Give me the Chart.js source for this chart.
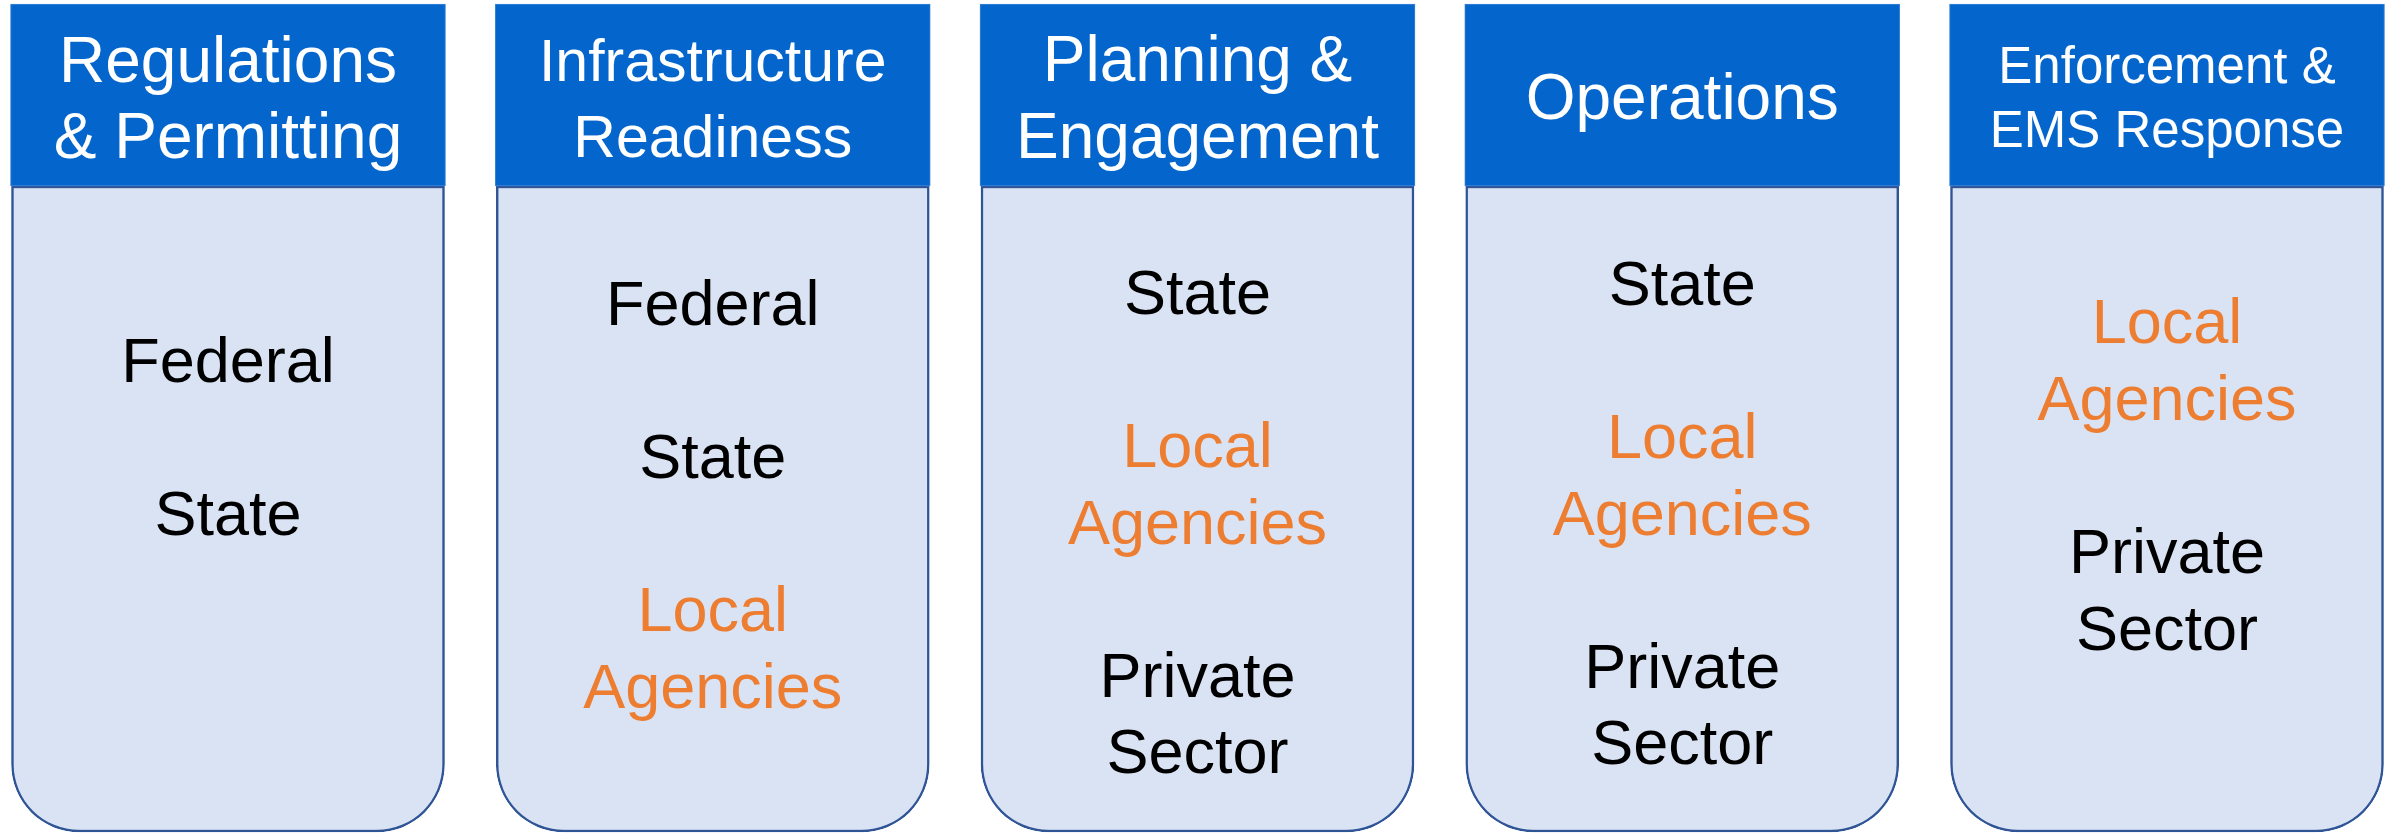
<!DOCTYPE html>
<html>
<head>
<meta charset="utf-8">
<script src="https://cdn.jsdelivr.net/npm/chart.js@4"></script>
<style>
  html, body { margin: 0; padding: 0; background: #fff; overflow: hidden; }
  #wrap { width: 2392px; height: 833px; position: relative; }
</style>
</head>
<body>
<div id="wrap"><canvas id="roles"></canvas></div>
<script>
// column headers and the stakeholders listed under each one
const headers = [
  ["Regulations", "& Permitting"],
  ["Infrastructure", "Readiness"],
  ["Planning &", "Engagement"],
  ["Operations"],
  ["Enforcement &", "EMS Response"]
];
const stakeholders = [
  ["Federal", "State"],
  ["Federal", "State", "Local\nAgencies"],
  ["State", "Local\nAgencies", "Private\nSector"],
  ["State", "Local\nAgencies", "Private\nSector"],
  ["Local\nAgencies", "Private\nSector"]
];
const highlight = "Local\nAgencies";

// layout (canvas pixels)
const headerSpan = [4, 186];
const bodySpan = [186, 832];
const headerFont = [64, 59, 64, 64, 51];
const headerTop = [82, 81, 81, 119, 83];
const headerStep = [76, 76, 77, 0, 64];
const bodyFont = 63;
const bodyTop = [382, 325, 314, 305, 343];
const bodyStep = [76.5, 76.6, 76.5, 76.5, 76.7];

const colors = {
  header: "#0466CC",
  headerEdge: "#3D86D4",
  body: "#DAE3F3",
  bodyEdge: "#2F5597",
  text: "#000000",
  accent: "#ED7D31"
};
const FONT = '"Liberation Sans", Arial, Helvetica, sans-serif';

const labelPlugin = {
  id: "columnText",
  afterDatasetsDraw(chart) {
    const ctx = chart.ctx;
    const bars = chart.getDatasetMeta(0).data;
    ctx.save();
    ctx.textAlign = "center";
    ctx.textBaseline = "alphabetic";
    headers.forEach((lines, i) => {
      const x = bars[i].x;
      ctx.fillStyle = "#ffffff";
      ctx.font = `${headerFont[i]}px ${FONT}`;
      lines.forEach((t, j) => ctx.fillText(t, x, headerTop[i] + j * headerStep[i]));

      ctx.font = `${bodyFont}px ${FONT}`;
      let row = 0;
      stakeholders[i].forEach(item => {
        ctx.fillStyle = item === highlight ? colors.accent : colors.text;
        item.split("\n").forEach(t => {
          ctx.fillText(t, x, bodyTop[i] + row * bodyStep[i]);
          row++;
        });
        row++; // blank line between entries
      });
    });
    ctx.restore();
  }
};

new Chart(document.getElementById("roles"), {
  type: "bar",
  data: {
    labels: headers.map(h => h.join(" ")),
    datasets: [
      {
        label: "header",
        data: headers.map(() => headerSpan),
        backgroundColor: colors.header,
        borderColor: colors.headerEdge,
        borderWidth: 1,
        borderSkipped: false,
        barThickness: 435,
        grouped: false,
        clip: false
      },
      {
        label: "body",
        data: headers.map(() => bodySpan),
        backgroundColor: colors.body,
        borderColor: colors.bodyEdge,
        borderWidth: 2.5,
        borderSkipped: false,
        borderRadius: { topLeft: 0, topRight: 0, bottomLeft: 68, bottomRight: 68 },
        barThickness: 433,
        grouped: false,
        clip: false
      }
    ]
  },
  options: {
    responsive: true,
    maintainAspectRatio: false,
    animation: false,
    events: [],
    layout: { padding: { left: 228, right: 225, top: 0, bottom: 0 } },
    plugins: { legend: { display: false }, tooltip: { enabled: false } },
    scales: {
      x: { type: "category", offset: false, display: false },
      y: { type: "linear", min: 0, max: 833, reverse: true, display: false }
    }
  },
  plugins: [labelPlugin]
});
</script>
</body>
</html>
